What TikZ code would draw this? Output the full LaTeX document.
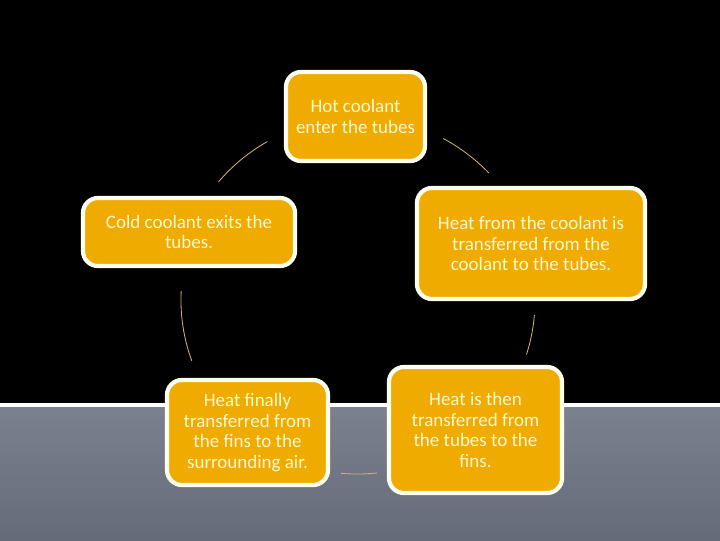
\documentclass[tikz,border=0pt]{standalone}
\usepackage{fontspec}
\setmainfont{Carlito}
\usetikzlibrary{positioning}
\definecolor{cycleorange}{HTML}{EFAB00}
\definecolor{cycleedge}{HTML}{FFFDF0}
\definecolor{cycletext}{HTML}{FFF8D0}
\definecolor{cyclearc}{HTML}{D2B07A}
\definecolor{slatetop}{HTML}{7B818E}
\definecolor{slatebottom}{HTML}{656B78}

\begin{document}
\begin{tikzpicture}[x=0.025cm, y=-0.025cm,
  stage/.style={fill=cycleorange, draw=cycleedge, line width=3pt, rounded corners=0.375cm,
    text=cycletext, align=center, inner sep=2pt, font=\fontsize{13.5}{14.5}\selectfont},
  link/.style={draw=cyclearc, line width=0.6pt}]
  \useasboundingbox (0,0) rectangle (720,540);
  \fill[black] (0,0) rectangle (720,405);
  \shade[top color=slatetop, bottom color=slatebottom] (0,405) rectangle (720,540);
  \draw[white, line width=2.5pt] (0,405) -- (720,405);
  % the five stages of the cooling loop
  \node[stage, minimum width=3.475cm, minimum height=2.225cm] (hot) at (355.5,116.5) {Hot coolant\\enter the tubes};
  \node[stage, minimum width=5.7cm, minimum height=2.775cm] (totubes) at (531,243.5) {Heat from the coolant is\\transferred from the\\coolant to the tubes.};
  \node[stage, minimum width=4.325cm, minimum height=3.15cm] (tofins) at (475.5,430) {Heat is then\\transferred from\\the tubes to the\\fins.};
  \node[stage, minimum width=4.025cm, minimum height=2.625cm] (toair) at (247.5,432.5) {Heat finally\\transferred from\\the fins to the\\surrounding air.};
  \node[stage, minimum width=5.3cm, minimum height=1.7cm] (cold) at (189,232) {Cold coolant exits the\\tubes.};
  % arcs of the cycle
  \coordinate (hub) at (357,300);
  \foreach \a/\b/\r in {139.5/119.5/4.55, 61.9/43.9/4.575, -4.8/-17.8/4.45, -83.4/-95.3/4.35, 200.2/177.1/4.4}
    \draw[link] ([shift={(\a:\r cm)}]hub) arc[start angle=\a, end angle=\b, radius=\r cm];
\end{tikzpicture}
\end{document}
